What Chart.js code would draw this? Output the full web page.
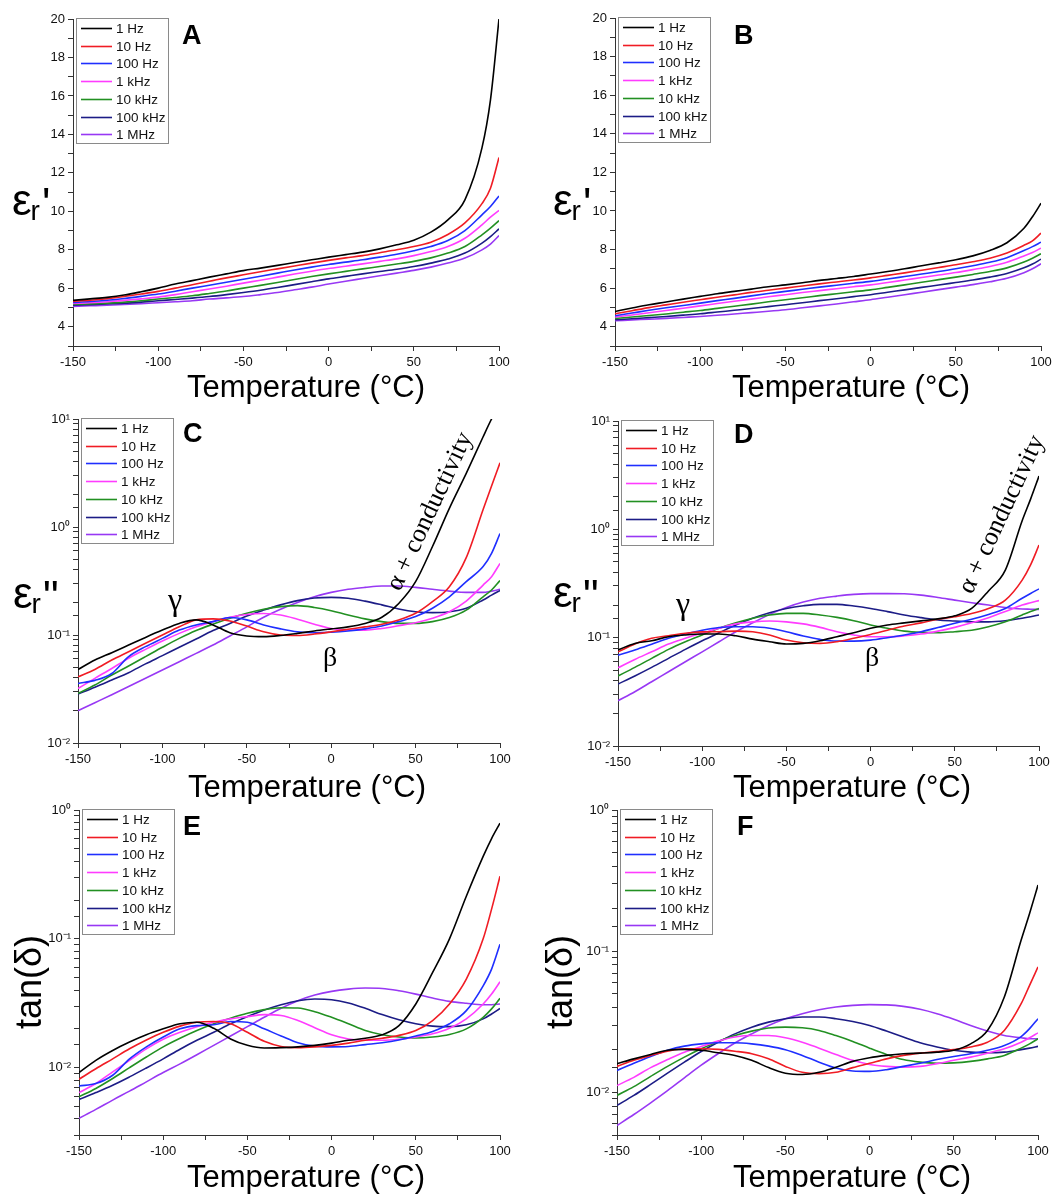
<!DOCTYPE html>
<html><head><meta charset="utf-8">
<script src="https://cdn.jsdelivr.net/npm/chart.js@4.4.1/dist/chart.umd.min.js"></script>
<style>
html,body{margin:0;padding:0;background:#fff;}
body{width:1059px;height:1194px;position:relative;overflow:hidden;}
canvas{position:absolute;}
</style></head><body>
<canvas id="cA" width="530" height="410" style="left:0px;top:0px"></canvas>
<canvas id="cB" width="529" height="410" style="left:530px;top:0px"></canvas>
<canvas id="cC" width="530" height="405" style="left:0px;top:400px"></canvas>
<canvas id="cD" width="529" height="405" style="left:530px;top:400px"></canvas>
<canvas id="cE" width="530" height="404" style="left:0px;top:790px"></canvas>
<canvas id="cF" width="529" height="404" style="left:530px;top:790px"></canvas>
<script>
// ---------------- DATA ----------------
const temps = [-150,-140,-130,-120,-110,-100,-90,-80,-70,-60,-50,-40,-30,-20,-10,0,10,20,30,40,50,60,70,80,90,95,100];
const freqLabels = ['1 Hz','10 Hz','100 Hz','1 kHz','10 kHz','100 kHz','1 MHz'];
const xTickLabels = [-150,-100,-50,0,50,100];
const yTickLabelsEps1 = [4,6,8,10,12,14,16,18,20];

// Panel A : eps_r'
const A_1Hz   = [5.37,5.45,5.53,5.65,5.82,6.01,6.22,6.40,6.58,6.75,6.92,7.05,7.19,7.34,7.48,7.62,7.75,7.88,8.05,8.26,8.50,8.92,9.56,10.6,13.3,15.8,20.0];
const A_10Hz  = [5.32,5.38,5.46,5.57,5.70,5.84,6.01,6.18,6.37,6.54,6.70,6.86,7.01,7.16,7.31,7.45,7.58,7.70,7.85,8.00,8.17,8.40,8.80,9.40,10.4,11.2,12.8];
const A_100Hz = [5.26,5.31,5.38,5.47,5.58,5.70,5.85,6.01,6.16,6.31,6.47,6.63,6.79,6.95,7.10,7.24,7.36,7.48,7.62,7.77,7.95,8.17,8.48,9.00,9.82,10.25,10.8];
const A_1kHz  = [5.21,5.25,5.30,5.37,5.45,5.54,5.67,5.82,5.96,6.11,6.27,6.42,6.58,6.74,6.89,7.03,7.15,7.27,7.40,7.53,7.70,7.91,8.17,8.60,9.30,9.70,10.05];
const A_10kHz = [5.16,5.19,5.23,5.28,5.35,5.44,5.52,5.61,5.73,5.86,6.01,6.15,6.30,6.46,6.61,6.75,6.88,7.01,7.13,7.26,7.40,7.58,7.83,8.17,8.78,9.13,9.52];
const A_100kHz= [5.12,5.15,5.18,5.22,5.28,5.35,5.42,5.49,5.57,5.67,5.78,5.90,6.04,6.19,6.34,6.49,6.62,6.75,6.87,6.99,7.13,7.31,7.52,7.83,8.35,8.69,9.09];
const A_1MHz  = [5.06,5.09,5.12,5.16,5.20,5.25,5.30,5.35,5.44,5.50,5.57,5.67,5.78,5.92,6.06,6.22,6.37,6.51,6.65,6.79,6.93,7.10,7.31,7.57,8.00,8.30,8.74];

// Panel B : eps_r'
const B_1Hz   = [4.79,4.97,5.14,5.28,5.43,5.57,5.71,5.83,5.95,6.07,6.17,6.28,6.40,6.50,6.60,6.73,6.86,7.00,7.16,7.31,7.47,7.67,7.95,8.35,9.10,9.70,10.4];
const B_10Hz  = [4.67,4.83,4.99,5.13,5.27,5.40,5.53,5.65,5.78,5.89,6.00,6.11,6.22,6.32,6.42,6.53,6.66,6.79,6.93,7.07,7.21,7.37,7.55,7.82,8.22,8.45,8.85];
const B_100Hz = [4.57,4.71,4.85,4.98,5.10,5.22,5.35,5.47,5.60,5.72,5.83,5.94,6.05,6.15,6.25,6.35,6.47,6.60,6.73,6.86,7.00,7.16,7.34,7.58,7.95,8.15,8.38];
const B_1kHz  = [4.50,4.61,4.72,4.84,4.96,5.08,5.20,5.32,5.43,5.55,5.66,5.77,5.87,5.97,6.07,6.17,6.29,6.42,6.55,6.68,6.81,6.96,7.12,7.34,7.67,7.85,8.07];
const B_10kHz = [4.43,4.50,4.58,4.66,4.75,4.84,4.95,5.06,5.17,5.29,5.40,5.50,5.61,5.71,5.81,5.91,6.04,6.17,6.30,6.44,6.57,6.71,6.86,7.05,7.35,7.55,7.78];
const B_100kHz= [4.36,4.41,4.47,4.53,4.60,4.67,4.76,4.85,4.94,5.04,5.14,5.24,5.35,5.45,5.56,5.66,5.79,5.91,6.04,6.16,6.29,6.42,6.57,6.76,7.05,7.25,7.50];
const B_1MHz  = [4.31,4.35,4.39,4.43,4.48,4.53,4.59,4.66,4.73,4.80,4.88,4.98,5.08,5.18,5.29,5.40,5.53,5.66,5.79,5.92,6.05,6.18,6.33,6.51,6.80,7.00,7.26];

// Panel C : eps_r''
const C_1Hz   = [0.048,0.0586,0.0686,0.0807,0.095,0.111,0.128,0.138,0.124,0.105,0.098,0.0966,0.099,0.1035,0.109,0.114,0.119,0.128,0.146,0.196,0.312,0.66,1.49,3.14,6.85,10,14];
const C_10Hz  = [0.041,0.048,0.0586,0.070,0.0838,0.1,0.119,0.138,0.141,0.135,0.121,0.107,0.1,0.099,0.102,0.107,0.113,0.119,0.126,0.138,0.159,0.204,0.28,0.52,1.45,2.4,3.93];
const C_100Hz = [0.0356,0.038,0.044,0.063,0.078,0.093,0.111,0.124,0.133,0.145,0.138,0.124,0.114,0.107,0.105,0.106,0.109,0.114,0.121,0.133,0.148,0.177,0.226,0.312,0.43,0.57,0.87];
const C_1kHz  = [0.032,0.0397,0.049,0.061,0.0736,0.088,0.1035,0.119,0.133,0.146,0.155,0.158,0.153,0.14,0.126,0.115,0.111,0.111,0.115,0.122,0.13,0.143,0.164,0.206,0.29,0.347,0.46];
const C_10kHz = [0.0288,0.0344,0.0426,0.0517,0.063,0.0769,0.093,0.11,0.126,0.143,0.159,0.173,0.183,0.187,0.18,0.168,0.153,0.141,0.133,0.128,0.128,0.133,0.145,0.17,0.226,0.261,0.32];
const C_100kHz= [0.0284,0.0328,0.0383,0.0448,0.054,0.0644,0.077,0.0918,0.11,0.128,0.15,0.17,0.19,0.208,0.22,0.223,0.219,0.206,0.19,0.174,0.164,0.161,0.164,0.177,0.211,0.234,0.258];
const C_1MHz  = [0.0199,0.0236,0.028,0.0333,0.0397,0.0474,0.0566,0.0676,0.0807,0.098,0.119,0.146,0.173,0.2,0.226,0.248,0.265,0.276,0.284,0.284,0.276,0.265,0.255,0.248,0.248,0.255,0.265];

// Panel D : eps_r''
const D_1Hz   = [0.077,0.0885,0.0937,0.102,0.106,0.108,0.108,0.104,0.097,0.0918,0.0873,0.0885,0.0937,0.102,0.111,0.122,0.131,0.137,0.143,0.149,0.159,0.186,0.27,0.42,1.2,1.9,3.1];
const D_10Hz  = [0.074,0.0873,0.0986,0.104,0.11,0.113,0.1135,0.115,0.1135,0.106,0.095,0.0897,0.0885,0.0918,0.0986,0.107,0.117,0.128,0.137,0.148,0.156,0.167,0.186,0.222,0.34,0.47,0.716];
const D_100Hz = [0.069,0.077,0.087,0.0986,0.108,0.117,0.124,0.126,0.126,0.122,0.1135,0.1035,0.0964,0.093,0.093,0.095,0.1,0.106,0.1135,0.124,0.136,0.148,0.164,0.186,0.231,0.256,0.282];
const D_1kHz  = [0.0528,0.063,0.074,0.0873,0.0986,0.11,0.122,0.134,0.14,0.1425,0.14,0.134,0.1245,0.1135,0.106,0.102,0.102,0.104,0.108,0.115,0.1245,0.137,0.153,0.174,0.2,0.21,0.22];
const D_10kHz = [0.0443,0.0532,0.0644,0.078,0.0918,0.106,0.122,0.137,0.151,0.162,0.1675,0.1675,0.162,0.154,0.1435,0.131,0.122,0.115,0.112,0.111,0.1135,0.117,0.126,0.14,0.162,0.174,0.186];
const D_100kHz= [0.0373,0.0443,0.0532,0.0644,0.078,0.0937,0.111,0.131,0.151,0.17,0.186,0.197,0.203,0.203,0.196,0.186,0.174,0.162,0.153,0.1455,0.1425,0.14,0.14,0.1435,0.151,0.156,0.162];
const D_1MHz  = [0.0262,0.0317,0.0392,0.0485,0.06,0.074,0.0918,0.1135,0.137,0.164,0.19,0.213,0.231,0.242,0.251,0.255,0.255,0.254,0.247,0.235,0.222,0.21,0.2,0.19,0.184,0.183,0.182];

// Panel E : tan(delta)
const E_1Hz   = [0.00916,0.0114,0.0136,0.0158,0.018,0.02,0.0219,0.0225,0.0202,0.0167,0.0149,0.0142,0.0143,0.0145,0.0149,0.0155,0.0163,0.0169,0.018,0.0212,0.0312,0.0548,0.1,0.214,0.436,0.6,0.79];
const E_10Hz  = [0.00813,0.0098,0.0117,0.014,0.0164,0.0188,0.021,0.0225,0.0228,0.0219,0.0188,0.016,0.0146,0.0143,0.0145,0.0149,0.0155,0.0163,0.0169,0.0178,0.0194,0.0232,0.0312,0.0487,0.1,0.17,0.306];
const E_100Hz = [0.0072,0.00753,0.00873,0.0117,0.0145,0.0173,0.02,0.0212,0.0215,0.0228,0.0225,0.02,0.0176,0.0156,0.0147,0.0145,0.0146,0.0151,0.0156,0.0164,0.0176,0.0191,0.0219,0.0277,0.0432,0.0582,0.0907];
const E_1kHz  = [0.0064,0.00753,0.00927,0.0114,0.014,0.0166,0.0188,0.0208,0.0225,0.0239,0.0249,0.0258,0.0254,0.0232,0.0204,0.018,0.0167,0.0163,0.0163,0.0166,0.0173,0.0183,0.0202,0.0239,0.0312,0.0373,0.0464];
const E_10kHz = [0.00594,0.00689,0.00823,0.01,0.0121,0.0145,0.0169,0.0194,0.0219,0.0242,0.0264,0.0282,0.0292,0.029,0.0272,0.0246,0.0219,0.0194,0.018,0.0173,0.017,0.0173,0.0181,0.02,0.0246,0.0286,0.0345];
const E_100kHz= [0.00566,0.0064,0.0073,0.00848,0.00994,0.0117,0.0139,0.0163,0.0188,0.0219,0.0249,0.028,0.0308,0.0331,0.0341,0.0337,0.0318,0.0289,0.0258,0.0235,0.0219,0.021,0.0208,0.0215,0.0239,0.0261,0.0288];
const E_1MHz  = [0.00404,0.00474,0.0056,0.00657,0.00776,0.00916,0.0107,0.0126,0.0149,0.0176,0.0208,0.0246,0.0289,0.0331,0.0366,0.0391,0.0407,0.0415,0.0412,0.0395,0.0372,0.0347,0.0327,0.0316,0.0308,0.0308,0.0312];

// Panel F : tan(delta)
const F_1Hz   = [0.016,0.0173,0.0186,0.0199,0.0202,0.0199,0.0191,0.0183,0.0169,0.015,0.0137,0.0134,0.0139,0.0151,0.0166,0.0176,0.0183,0.0188,0.019,0.0193,0.0199,0.0221,0.0275,0.0474,0.12,0.185,0.294];
const F_10Hz  = [0.0153,0.0169,0.0183,0.0196,0.0204,0.0204,0.0202,0.0196,0.0188,0.0173,0.0153,0.0139,0.0136,0.0139,0.015,0.0161,0.0173,0.0183,0.019,0.0195,0.0201,0.021,0.0227,0.0275,0.0425,0.0574,0.0774];
const F_100Hz = [0.0143,0.0161,0.018,0.0199,0.0213,0.0221,0.0225,0.0225,0.0221,0.0213,0.0201,0.0183,0.0164,0.0149,0.0142,0.0141,0.0145,0.0153,0.0161,0.0171,0.018,0.0188,0.0199,0.0215,0.0249,0.0283,0.0333];
const F_1kHz  = [0.0112,0.0128,0.015,0.0171,0.0193,0.0212,0.0231,0.0247,0.0253,0.0253,0.0244,0.0227,0.0206,0.0186,0.0169,0.0158,0.0153,0.0151,0.0153,0.016,0.0169,0.0178,0.019,0.0204,0.0227,0.0244,0.0264];
const F_10kHz = [0.00953,0.011,0.013,0.0153,0.0178,0.0204,0.023,0.0253,0.0272,0.0286,0.029,0.0287,0.0275,0.0253,0.023,0.0206,0.0186,0.0171,0.0164,0.0161,0.0162,0.0166,0.0173,0.0183,0.0206,0.0221,0.024];
const F_100kHz= [0.0081,0.00953,0.0114,0.0137,0.0164,0.0195,0.0227,0.026,0.029,0.0315,0.0333,0.0342,0.0342,0.0333,0.0318,0.0298,0.0272,0.0247,0.0225,0.021,0.0199,0.0193,0.0191,0.0193,0.0201,0.0206,0.0212];
const F_1MHz  = [0.00583,0.00698,0.00845,0.0103,0.0127,0.0156,0.0188,0.0224,0.026,0.0298,0.0333,0.0361,0.0385,0.0403,0.0414,0.0419,0.0417,0.0407,0.0388,0.0361,0.033,0.0298,0.0272,0.0253,0.0244,0.024,0.024];

// ---------------- STYLE / LAYOUT ----------------
const lineColors = ['#000000','#f01c24','#1f2fff','#ff3cff','#229022','#1c1c86','#9838f4'];
const SANS = '"Liberation Sans", Arial, sans-serif';
const SERIF = '"Liberation Serif", "Times New Roman", serif';
Chart.defaults.font.family = SANS;

const SUP = {'0':'⁰','1':'¹','2':'²','3':'³','-':'⁻'};
function decadeLabel(v){
  const l = Math.log10(v); const r = Math.round(l);
  if (Math.abs(l - r) > 1e-6) return '';
  return '10' + String(r).split('').map(c=>SUP[c]).join('');
}

function buildDatasets(series){
  return series.map((arr,i)=>({
    label: freqLabels[i],
    data: temps.map((t,j)=>({x:t, y:arr[j]})),
    borderColor: lineColors[i], backgroundColor: lineColors[i],
    borderWidth: 1.6, pointRadius: 0, fill:false,
    cubicInterpolationMode:'monotone'
  }));
}

function makePanel(p){
  const padT = p.T - p.y0, padR = (p.x0 + p.w) - p.R;
  const yW = p.L - p.x0, xH = (p.y0 + p.h) - p.B;
  const deco = {
    id:'deco'+p.id,
    afterDraw(chart){
      const ctx = chart.ctx, ca = chart.chartArea;
      const ox = p.x0, oy = p.y0;
      ctx.save();
      // legend box
      ctx.strokeStyle = '#8a8a8a'; ctx.lineWidth = 1;
      ctx.strokeRect(ca.left + 3.5, ca.top - 0.5, 92, 125);
      ctx.font = '13.5px ' + SANS; ctx.textAlign = 'left'; ctx.textBaseline = 'middle';
      chart.data.datasets.forEach((ds,i)=>{
        const y = Math.round(ca.top + 9 + i*17.7) + 0.5;
        ctx.strokeStyle = ds.borderColor; ctx.lineWidth = 1.6;
        ctx.beginPath(); ctx.moveTo(ca.left + 8, y); ctx.lineTo(ca.left + 39, y); ctx.stroke();
        ctx.fillStyle = '#111';
        ctx.fillText(ds.label, ca.left + 43, y + 0.5);
      });
      // panel letter
      ctx.fillStyle = '#000';
      ctx.font = 'bold 27px ' + SANS; ctx.textBaseline = 'alphabetic';
      ctx.fillText(p.letter, p.letterX - ox, p.letterY - oy);
      // x title
      ctx.font = '31px ' + SANS; ctx.textAlign = 'center';
      ctx.fillText('Temperature (°C)', p.xtX - ox, p.xtY - oy);
      // y title
      if (p.ytype === 'tan'){
        ctx.save();
        ctx.translate(p.ytX - ox, p.ytY - oy); ctx.rotate(-Math.PI/2);
        ctx.font = '36px ' + SANS; ctx.textAlign = 'center'; ctx.textBaseline = 'alphabetic';
        ctx.fillText('tan(δ)', 0, 0);
        ctx.restore();
      } else {
        const x = p.ytX - ox, y = p.ytY - oy;
        ctx.textAlign = 'left'; ctx.textBaseline = 'alphabetic';
        ctx.font = '44px ' + SANS; ctx.fillText('ε', x, y);
        const w = ctx.measureText('ε').width;
        ctx.font = '28px ' + SANS; ctx.fillText('r', x + w - 1, y + 5);
        const w2 = ctx.measureText('r').width;
        ctx.font = '44px ' + SANS; ctx.fillText(p.ytype === 'eps2' ? '"' : "'", x + w + w2 + 1, y + 4);
      }
      // annotations
      if (p.ann){
        ctx.font = '32px ' + SERIF; ctx.textAlign = 'center'; ctx.textBaseline = 'alphabetic';
        ctx.fillText('γ', p.ann.gx - ox, p.ann.gy - oy);
        ctx.font = '28px ' + SERIF;
        ctx.fillText('β', p.ann.bx - ox, p.ann.by - oy);
        ctx.save();
        ctx.translate(p.ann.ax - ox, p.ann.ay - oy); ctx.rotate(-65*Math.PI/180);
        ctx.font = '26px ' + SERIF; ctx.textAlign = 'left';
        ctx.fillText('α + conductivity', 0, 0);
        ctx.restore();
      }
      ctx.restore();
    }
  };
  const isLog = p.ylog;
  const yScale = isLog ? {
      type:'logarithmic', min:p.ymin, max:p.ymax,
      ticks:{autoSkip:false, color:'#111', font:{size:13}, padding:3, callback:(v)=>decadeLabel(v)},
    } : {
      type:'linear', min:p.ymin, max:p.ymax,
      ticks:{stepSize:1, autoSkip:false, color:'#111', font:{size:13}, padding:3,
             callback:(v)=> yTickLabelsEps1.includes(v) ? String(v) : ''},
    };
  yScale.grid = {display:true, drawOnChartArea:false, drawTicks:true, tickLength:5, color:'#333'};
  yScale.border = {display:true, color:'#333', width:1};
  yScale.afterFit = (s)=>{ s.width = yW; };
  new Chart(document.getElementById('c'+p.id), {
    type:'line',
    data:{datasets: buildDatasets(p.series)},
    options:{
      responsive:false, animation:false, events:[],
      layout:{padding:{left:0, top:padT, right:padR, bottom:0}},
      plugins:{legend:{display:false}, tooltip:{enabled:false}},
      scales:{
        x:{type:'linear', min:-150, max:100,
           ticks:{stepSize:25, autoSkip:false, maxRotation:0, color:'#111', font:{size:13}, padding:4,
                  callback:(v)=> xTickLabels.includes(v) ? String(v) : ''},
           grid:{display:true, drawOnChartArea:false, drawTicks:true, tickLength:5, color:'#333'},
           border:{display:true, color:'#333', width:1},
           afterFit:(s)=>{ s.height = xH; }
        },
        y: yScale
      }
    },
    plugins:[deco]
  });
}

makePanel({id:'A', x0:0, y0:0, w:530, h:410, L:73, T:19, R:499, B:346, ylog:false, ymin:3, ymax:20,
  series:[A_1Hz,A_10Hz,A_100Hz,A_1kHz,A_10kHz,A_100kHz,A_1MHz],
  letter:'A', letterX:182, letterY:44, xtX:306, xtY:397, ytype:'eps1', ytX:12, ytY:215});
makePanel({id:'B', x0:530, y0:0, w:529, h:410, L:615, T:18, R:1041, B:346, ylog:false, ymin:3, ymax:20,
  series:[B_1Hz,B_10Hz,B_100Hz,B_1kHz,B_10kHz,B_100kHz,B_1MHz],
  letter:'B', letterX:734, letterY:44, xtX:851, xtY:397, ytype:'eps1', ytX:553, ytY:215});
makePanel({id:'C', x0:0, y0:400, w:530, h:405, L:78, T:419, R:500, B:743, ylog:true, ymin:0.01, ymax:10,
  series:[C_1Hz,C_10Hz,C_100Hz,C_1kHz,C_10kHz,C_100kHz,C_1MHz],
  letter:'C', letterX:183, letterY:442, xtX:307, xtY:797, ytype:'eps2', ytX:13, ytY:608,
  ann:{gx:175, gy:610, bx:330, by:666, ax:400, ay:592}});
makePanel({id:'D', x0:530, y0:400, w:529, h:405, L:618, T:421, R:1039, B:746, ylog:true, ymin:0.01, ymax:10,
  series:[D_1Hz,D_10Hz,D_100Hz,D_1kHz,D_10kHz,D_100kHz,D_1MHz],
  letter:'D', letterX:734, letterY:443, xtX:852, xtY:797, ytype:'eps2', ytX:553, ytY:607,
  ann:{gx:683, gy:614, bx:872, by:666, ax:972, ay:595}});
makePanel({id:'E', x0:0, y0:790, w:530, h:404, L:79, T:810, R:500, B:1135, ylog:true, ymin:0.003, ymax:1,
  series:[E_1Hz,E_10Hz,E_100Hz,E_1kHz,E_10kHz,E_100kHz,E_1MHz],
  letter:'E', letterX:183, letterY:835, xtX:306, xtY:1187, ytype:'tan', ytX:41, ytY:982});
makePanel({id:'F', x0:530, y0:790, w:529, h:404, L:617, T:810, R:1038, B:1135, ylog:true, ymin:0.005, ymax:1,
  series:[F_1Hz,F_10Hz,F_100Hz,F_1kHz,F_10kHz,F_100kHz,F_1MHz],
  letter:'F', letterX:737, letterY:835, xtX:852, xtY:1187, ytype:'tan', ytX:572, ytY:982});
</script>
</body></html>
